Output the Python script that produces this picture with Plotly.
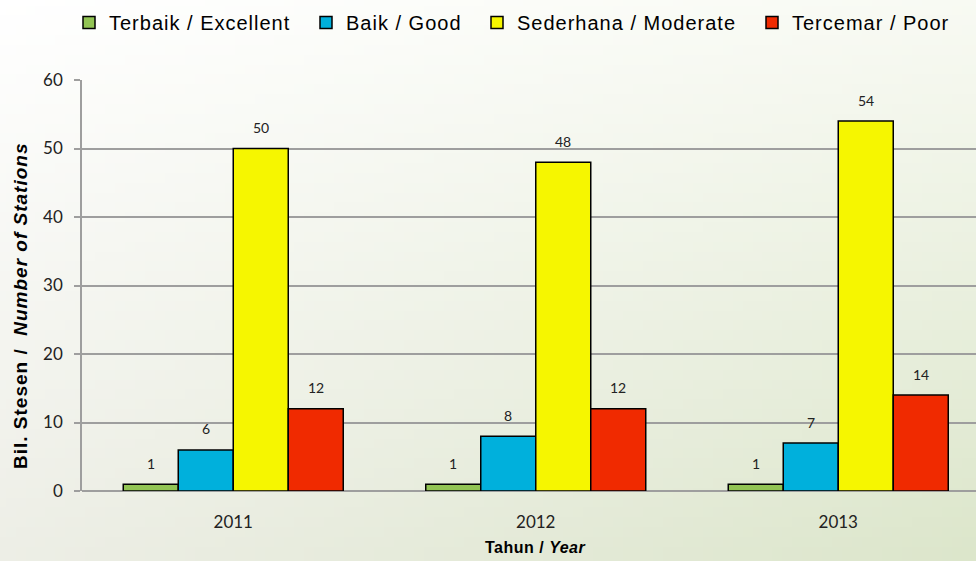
import base64, struct, zlib
import plotly.graph_objects as go

# ---- data ----
years = ["2011", "2012", "2013"]
series_names = ["Terbaik / Excellent", "Baik / Good", "Sederhana / Moderate", "Tercemar / Poor"]
excellent = [1, 1, 1]
good = [6, 8, 7]
moderate = [50, 48, 54]
poor = [12, 12, 14]
y_ticks = [0, 10, 20, 30, 40, 50, 60]

series_values = [excellent, good, moderate, poor]
colors = ["#92c454", "#00b0dc", "#f6f600", "#f02a00"]

W, H = 976, 561
ML, MR, MT, MB = 82, 0, 80, 70
PW, PH = W - ML - MR, H - MT - MB

# legend entry left edges (pixels from figure left)
legend_px = [69, 306, 477, 752]

LS = "letter-spacing:1px"


# ---- gradient background as small PNG ----
def make_png(w, h):
    tl, tr, bl, br = (255, 255, 255), (248, 250, 243), (237, 238, 230), (220, 230, 203)
    raw = bytearray()
    for j in range(h):
        v = j / (h - 1)
        raw.append(0)
        for i in range(w):
            u = i / (w - 1)
            for k in range(3):
                c = (tl[k] * (1 - u) * (1 - v) + tr[k] * u * (1 - v)
                     + bl[k] * (1 - u) * v + br[k] * u * v)
                raw.append(int(round(c)))
    def chunk(t, d):
        c = struct.pack(">I", len(d)) + t + d
        return c + struct.pack(">I", zlib.crc32(t + d) & 0xffffffff)
    png = b"\x89PNG\r\n\x1a\n"
    png += chunk(b"IHDR", struct.pack(">IIBBBBB", w, h, 8, 2, 0, 0, 0))
    png += chunk(b"IDAT", zlib.compress(bytes(raw), 9))
    png += chunk(b"IEND", b"")
    return "data:image/png;base64," + base64.b64encode(png).decode()


bg = make_png(98, 57)

fig = go.Figure()
legend_keys = ["legend2", "legend3", "legend4", "legend5"]
for name, vals, col, lk in zip(series_names, series_values, colors, legend_keys):
    fig.add_trace(go.Bar(
        x=years, y=vals, name=f"<span style='{LS}'>{name}</span>", legend=lk,
        marker=dict(color=col, line=dict(color="#000000", width=1.5)),
    ))

# data labels (anchored on each bar's value)
bar_px = 55
for si, vals in enumerate(series_values):
    for ci, v in enumerate(vals):
        fig.add_annotation(
            x=ci, y=v, xref="x", yref="y", text=str(v), showarrow=False,
            xshift=(si - 1.5) * bar_px, yshift=21, yanchor="middle",
            font=dict(family="Lato, Open Sans, sans-serif", size=14, color="#222222"),
        )

# axis titles
fig.add_annotation(
    xref="paper", yref="paper", x=(20 - ML) / PW, y=(MT + PH - 306) / PH,
    xanchor="center", yanchor="middle", textangle=-90, showarrow=False,
    text=f"<span style='{LS}'><b>Bil. Stesen /  <i>Number of Stations</i></b></span>",
    font=dict(family="Liberation Sans, Arial, sans-serif", size=19, color="#000000"),
)
fig.add_annotation(
    xref="paper", yref="paper", x=(535 - ML) / PW, y=(MT + PH - 547) / PH,
    xanchor="center", yanchor="middle", showarrow=False,
    text="<span style='letter-spacing:0.5px'><b>Tahun / <i>Year</i></b></span>",
    font=dict(family="Liberation Sans, Arial, sans-serif", size=16, color="#000000"),
)

x_range_right = -0.5 + PW / 302.5

legend_style = dict(
    orientation="h", xanchor="left", xref="container",
    y=1 + (MT - 3) / PH, yanchor="top",
    font=dict(family="Liberation Sans, Arial, sans-serif", size=20, color="#000000"),
    bgcolor="rgba(0,0,0,0)",
)
legends = {}
for lk, px in zip(legend_keys, legend_px):
    legends[lk] = dict(legend_style, x=px / W)

fig.update_layout(
    width=W, height=H,
    margin=dict(l=ML, r=MR, t=MT, b=MB, pad=0, autoexpand=False),
    paper_bgcolor="white",
    plot_bgcolor="rgba(0,0,0,0)",
    barmode="group",
    bargap=0.2727,
    bargroupgap=0,
    showlegend=True,
    images=[dict(
        source=bg, xref="paper", yref="paper",
        x=-ML / PW, y=1 + MT / PH, sizex=W / PW, sizey=H / PH,
        xanchor="left", yanchor="top", sizing="stretch", layer="below",
    )],
    xaxis=dict(
        type="category",
        range=[-0.5, x_range_right],
        showgrid=False, showline=False, ticks="outside", ticklen=16,
        tickcolor="rgba(0,0,0,0)",
        tickfont=dict(family="Lato, Open Sans, sans-serif", size=17, color="#222222"),
        automargin=False,
        fixedrange=True,
    ),
    yaxis=dict(
        range=[0, 60], tickvals=y_ticks,
        showgrid=True, gridcolor="#9e9e9e", gridwidth=1.5,
        zeroline=True, zerolinecolor="#9e9e9e", zerolinewidth=1.5,
        showline=True, linecolor="#9e9e9e", linewidth=1.5,
        ticks="outside", ticklen=6, tickcolor="#9e9e9e", tickwidth=1.5,
        ticklabelstandoff=8,
        tickfont=dict(family="Lato, Open Sans, sans-serif", size=17, color="#222222"),
        automargin=False,
        fixedrange=True,
    ),
    **legends,
)

fig.write_html("out.html", config={"displayModeBar": False},
               post_script="document.body.style.margin='0';")
